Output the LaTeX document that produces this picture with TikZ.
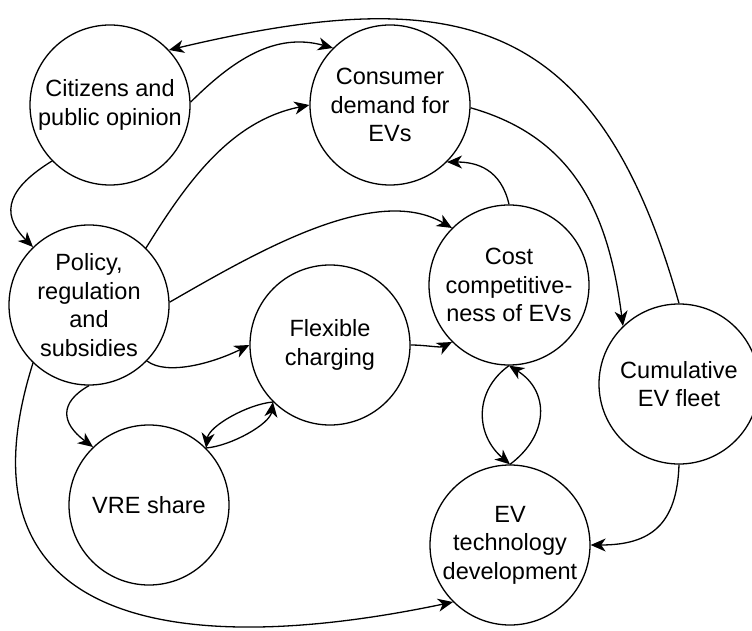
\documentclass[tikz,border=0pt]{standalone}
\usepackage{fontspec}
\setmainfont{Liberation Sans}
\usepackage{tikz}
\usetikzlibrary{arrows.meta}

\begin{document}
\begin{tikzpicture}[x=1pt, y=1pt,
    factor/.style={draw, circle, line width=1.3pt, minimum size=160pt, inner sep=0pt,
      align=center, font=\fontsize{23.5}{28.5}\selectfont},
    link/.style={-{Stealth[length=15pt, width=13pt, inset=4.5pt]}, line width=1.3pt}]
    \useasboundingbox (0,0) rectangle (752,630);
    \fill[white] (0,0) rectangle (752,630);

    % the eight factors
    \node[factor] (citizens) at (110,525) {Citizens and\\public opinion};
    \node[factor] (demand) at (390,525) {Consumer\\demand for\\EVs};
    \node[factor] (policy) at (89,325) {Policy,\\regulation\\and\\subsidies};
    \node[factor] (cost) at (509,345) {Cost\\competitive-\\ness of EVs};
    \node[factor] (flexible) at (330,285) {Flexible\\charging};
    \node[factor] (fleet) at (679,246) {Cumulative\\EV fleet};
    \node[factor] (vre) at (149,125) {VRE share};
    \node[factor] (tech) at (510,85) {EV\\technology\\development};

    % outer loops
    \draw[link] (fleet.90) .. controls +(-81,288) and +(291,69) .. (citizens.43);
    \draw[link] (citizens.2) .. controls +(42,42) and +(-58,16) .. (demand.135);
    \draw[link] (demand.-2) .. controls +(106,-30) and +(-14,109) .. (fleet.134);
    \draw[link] (citizens.224) .. controls +(-42,-26) and +(-35,35) .. (policy.134);
    \draw[link] (fleet.-90) .. controls +(-2,-60) and +(60,0) .. (tech.0);
    \draw[link] (policy.226) .. controls +(-84,-266) and +(-271,-57) .. (tech.225);

    % policy effects
    \draw[link] (policy.45) .. controls +(42,68) and +(-78,-16) .. (demand.180);
    \draw[link] (policy.2) .. controls +(87,50) and +(-77,45) .. (cost.135);
    \draw[link] (policy.-44) .. controls +(20,-15) and +(-36,-18) .. (flexible.180);
    \draw[link] (policy.-90) .. controls +(-30,-17) and +(-32,24) .. (vre.134);

    % inner links
    \draw[link] (cost.90) .. controls +(-8,35) and +(30,0) .. (demand.-45);
    \draw[link] (flexible.0) .. controls +(15,0) and +(-12,-6) .. (cost.225);
    \draw[link] (flexible.225) .. controls +(-25,-2) and +(3,22) .. (vre.45);
    \draw[link] (vre.45) .. controls +(25,2) and +(-3,-22) .. (flexible.225);
    \draw[link] (cost.-90) .. controls +(-35,-25) and +(-35,30) .. (tech.90);
    \draw[link] (tech.90) .. controls +(40,30) and +(40,-25) .. (cost.-90);
\end{tikzpicture}
\end{document}
